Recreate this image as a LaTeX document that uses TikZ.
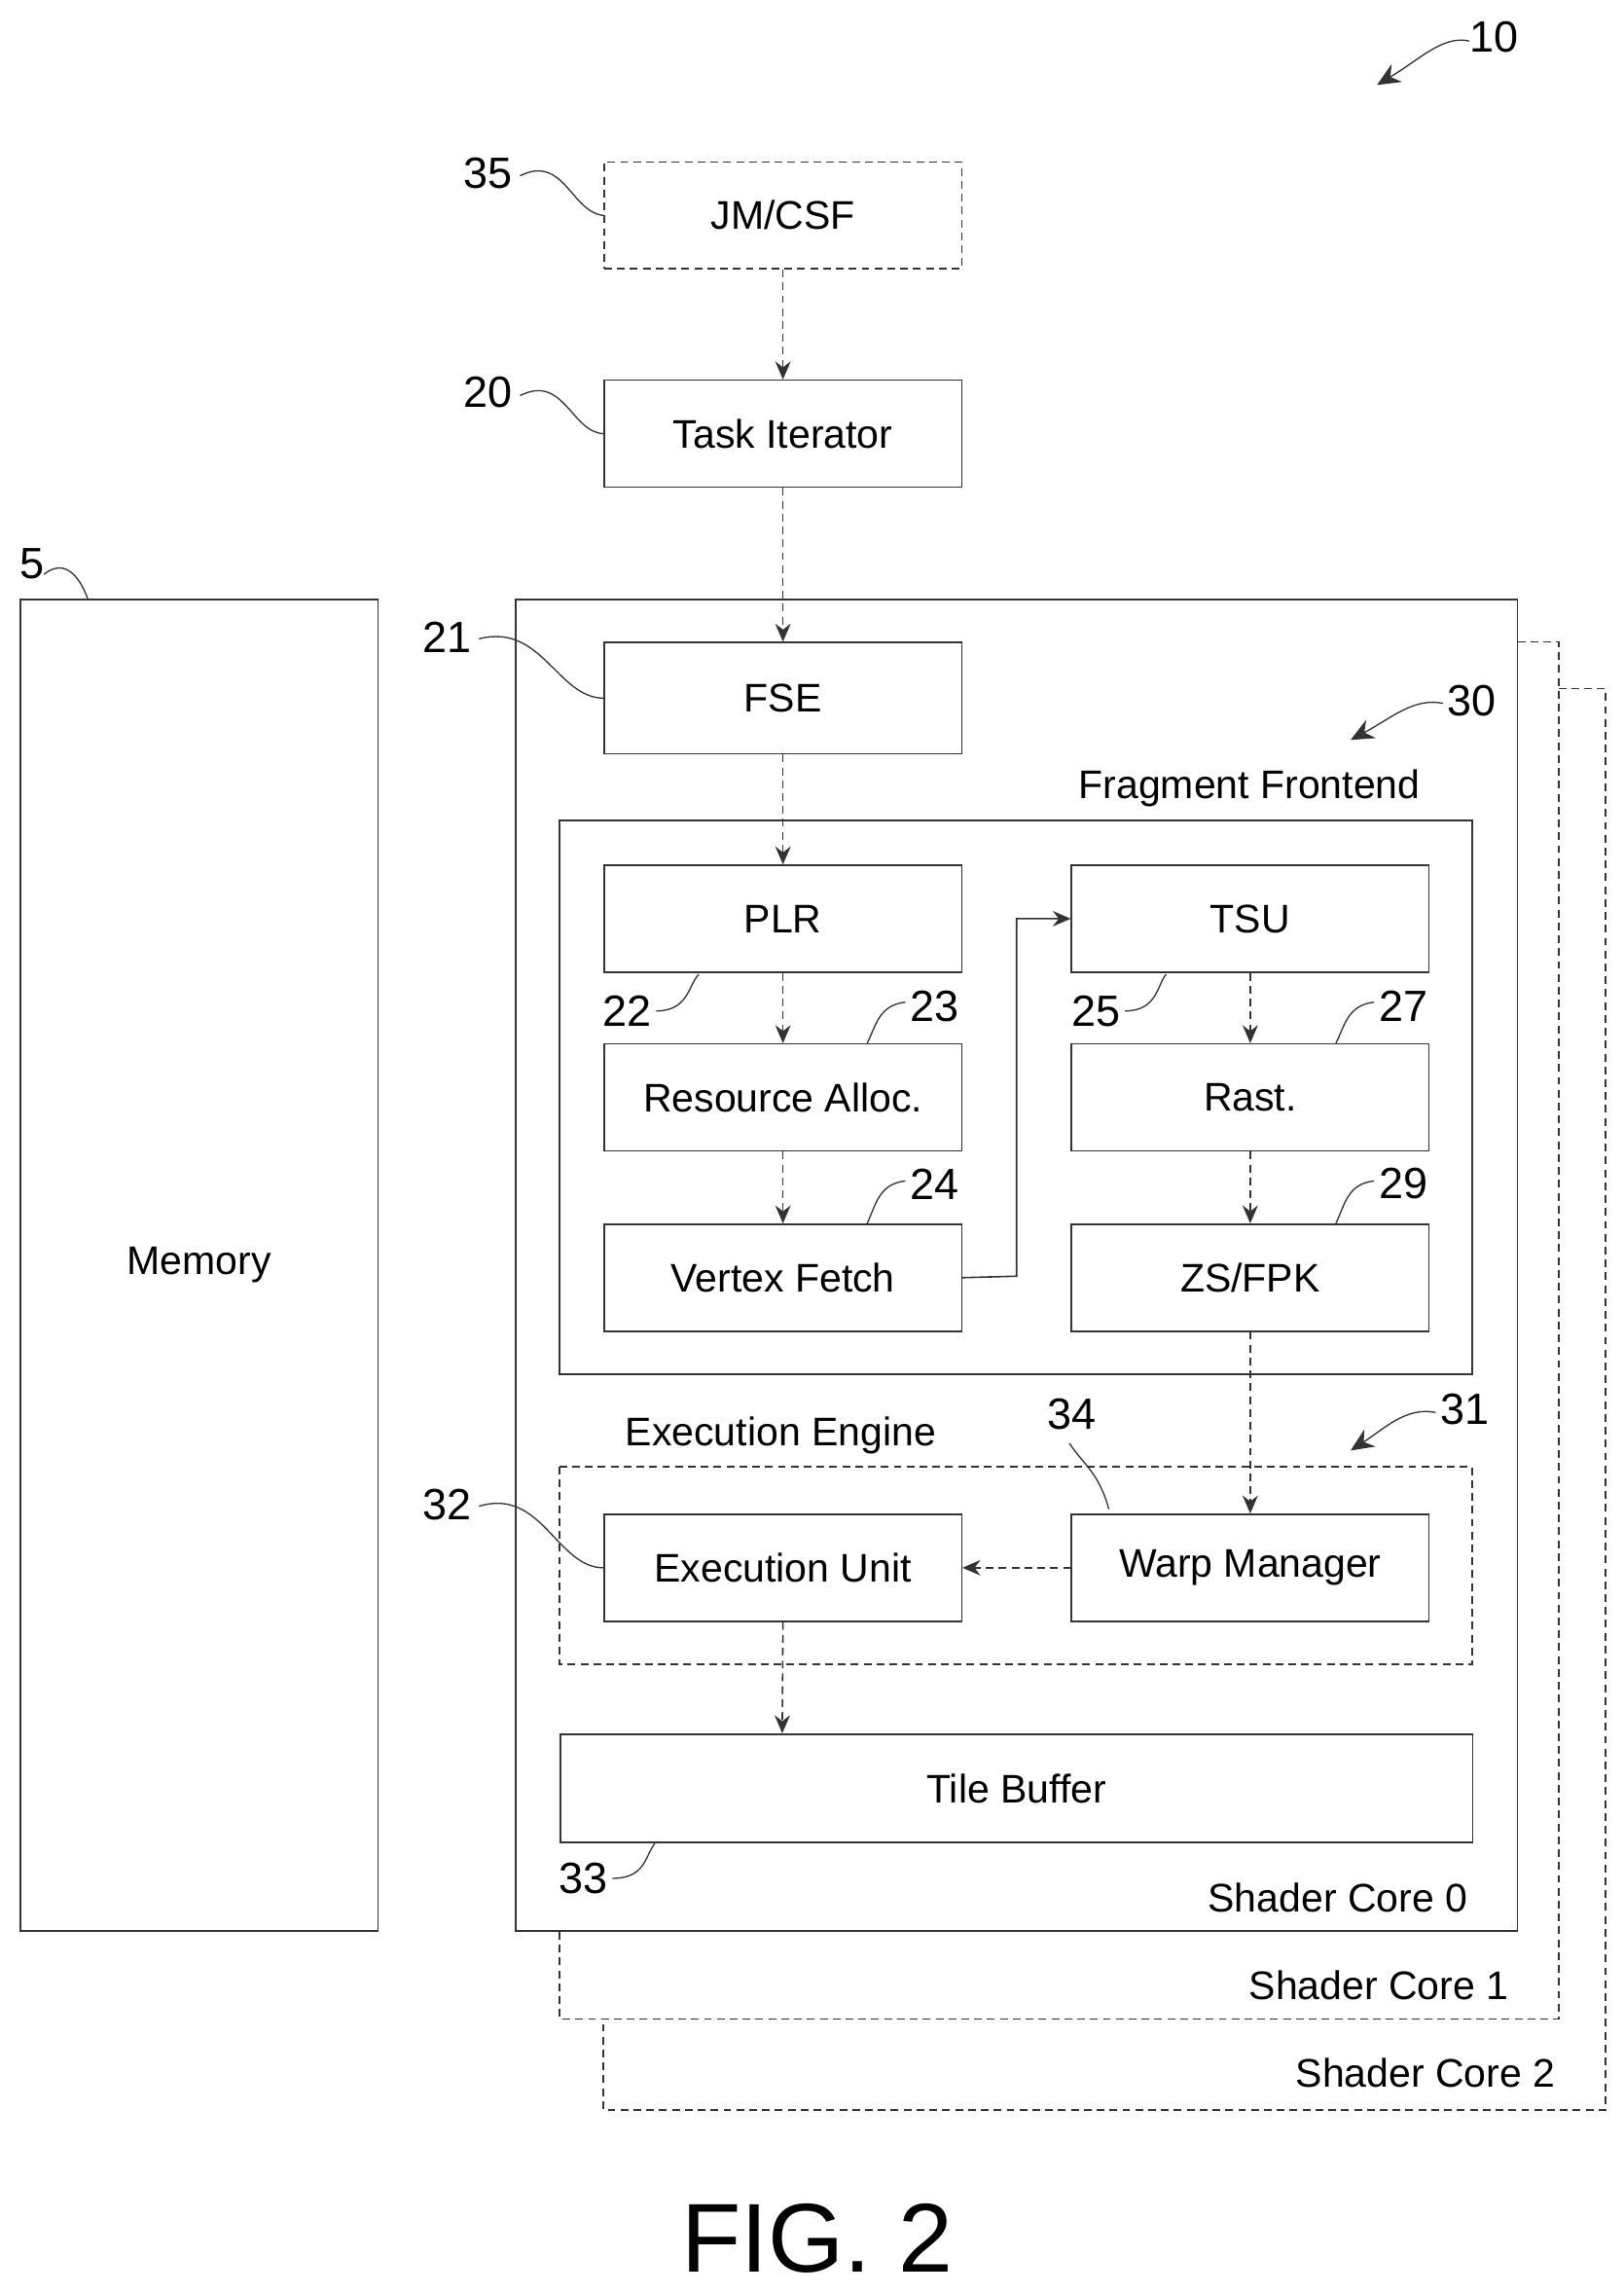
\documentclass[tikz,border=0pt]{standalone}
\usepackage{fontspec}
\setmainfont{Liberation Sans}
\usetikzlibrary{arrows.meta,decorations.pathmorphing}
\begin{document}
\begin{tikzpicture}[x=0.02cm,y=-0.02cm,
  box/.style={draw=black!80,line width=0.6pt},
  dbox/.style={draw=black!80,line width=0.6pt,dash pattern=on 3pt off 2pt},
  arr/.style={draw=black!80,line width=0.6pt,dash pattern=on 3pt off 2pt,-{Stealth[length=7pt,width=6pt]}},
  lead/.style={draw=black!80,line width=0.5pt},
  lbl/.style={font=\fontsize{15.5}{18}\selectfont},
  num/.style={font=\fontsize{17}{20}\selectfont}]
\useasboundingbox (0,0) rectangle (1108,1565);
% shader core 2 & 1 outlines
\draw[dbox] (1064,470) -- (1096,470) -- (1096,1440) -- (412,1440) -- (412,1378);
\draw[dbox] (1036,438) -- (1064,438) -- (1064,1378) -- (382,1378) -- (382,1318);
\node[lbl,anchor=east] (sc1) at (1036,1355) {Shader Core 1};
\node[lbl,anchor=east] (sc2) at (1068,1415) {Shader Core 2};
% memory
\draw[box] (14,409) rectangle (258,1318);
\node[lbl] (mem) at (136,863) {Memory};
\node[num] (n5) at (22,385) {5};
\draw[lead] (30,392) .. controls (45,380) and (55,395) .. (60,409);
% shader core 0
\draw[box] (352,409) rectangle (1036,1318);
\node[lbl,anchor=east] (sc0) at (1008,1295) {Shader Core 0};
% boxes
\node[dbox,anchor=north west,inner sep=0,minimum width=4.88cm,minimum height=1.46cm,lbl] (jm) at (412,110) {JM/CSF};
\node[box,anchor=north west,inner sep=0,minimum width=4.88cm,minimum height=1.46cm,lbl] (ti) at (412,259) {Task Iterator};
\node[box,anchor=north west,inner sep=0,minimum width=4.88cm,minimum height=1.52cm,lbl] (fse) at (412,438) {FSE};
\draw[box] (382,560) rectangle (1005,938);
\node[lbl] (ff) at (853,538) {Fragment Frontend};
\foreach \n/\x/\y/\t in {plr/412/590/PLR, tsu/731/590/TSU, ra/412/712/Resource Alloc., rast/731/712/Rast., vf/412/835/Vertex Fetch, zs/731/835/{ZS/FPK}, eu/412/1033/Execution Unit, wm/731/1033/Warp Manager}
  \node[box,anchor=north west,inner sep=0,minimum width=4.88cm,minimum height=1.46cm,lbl] (\n) at (\x,\y) {\t};
\draw[dbox] (382,1001) rectangle (1005,1136);
\node[lbl] (ee) at (533,980) {Execution Engine};
\node[box,anchor=north west,inner sep=0,minimum width=12.46cm,minimum height=1.48cm,lbl] (tb) at (382,1183) {Tile Buffer};
% arrows
\draw[arr] (jm) -- (ti);
\draw[arr] (ti) -- (fse);
\draw[arr] (fse) -- (plr);
\draw[arr] (plr) -- (ra);
\draw[arr] (ra) -- (vf);
\draw[arr,solid] (vf.east) -- (694,871) -- (694,627) -- (tsu.west);
\draw[arr] (tsu) -- (rast);
\draw[arr] (rast) -- (zs);
\draw[arr] (zs) -- (wm);
\draw[arr] (wm) -- (eu);
\draw[arr] (eu.south) -- (534,1183);
% numerals
\node[num] (n10) at (1020,25) {10};
\draw[lead,-{Stealth[length=9pt,width=8pt]}] (1003,28) .. controls (985,24) and (970,40) .. (940,58);
\node[num] (n35) at (333,118) {35};
\draw[lead] (355,120) .. controls (385,105) and (390,145) .. (jm.west);
\node[num] (n20) at (333,268) {20};
\draw[lead] (355,270) .. controls (385,255) and (390,295) .. (ti.west);
\node[num] (n21) at (305,435) {21};
\draw[lead] (327,436) .. controls (370,425) and (380,476) .. (fse.west);
\node[num] (n30) at (1005,478) {30};
\draw[lead,-{Stealth[length=9pt,width=8pt]}] (985,480) .. controls (965,476) and (950,490) .. (922,505);
\node[num] (n22) at (428,690) {22};
\draw[lead] (448,690) .. controls (470,690) and (470,672) .. (477,665);
\node[num] (n23) at (638,687) {23};
\draw[lead] (618,684) .. controls (600,686) and (598,700) .. (592,712);
\node[num] (n25) at (748,690) {25};
\draw[lead] (768,690) .. controls (790,690) and (790,672) .. (796,665);
\node[num] (n27) at (958,687) {27};
\draw[lead] (938,684) .. controls (920,686) and (918,700) .. (912,712);
\node[num] (n24) at (638,808) {24};
\draw[lead] (618,806) .. controls (600,808) and (598,822) .. (592,835);
\node[num] (n29) at (958,808) {29};
\draw[lead] (938,806) .. controls (920,808) and (918,822) .. (912,835);
\node[num] (n31) at (1000,962) {31};
\draw[lead,-{Stealth[length=9pt,width=8pt]}] (980,964) .. controls (960,960) and (945,975) .. (922,990);
\node[num] (n34) at (732,965) {34};
\draw[lead] (730,985) .. controls (740,1000) and (750,1005) .. (757,1030);
\node[num] (n32) at (305,1027) {32};
\draw[lead] (327,1028) .. controls (370,1015) and (380,1070) .. (eu.west);
\node[num] (n33) at (398,1282) {33};
\draw[lead] (418,1282) .. controls (440,1282) and (440,1268) .. (447,1258);
\node[font=\fontsize{38}{44}\selectfont] (fig) at (558,1528) {FIG. 2};
\end{tikzpicture}
\end{document}
